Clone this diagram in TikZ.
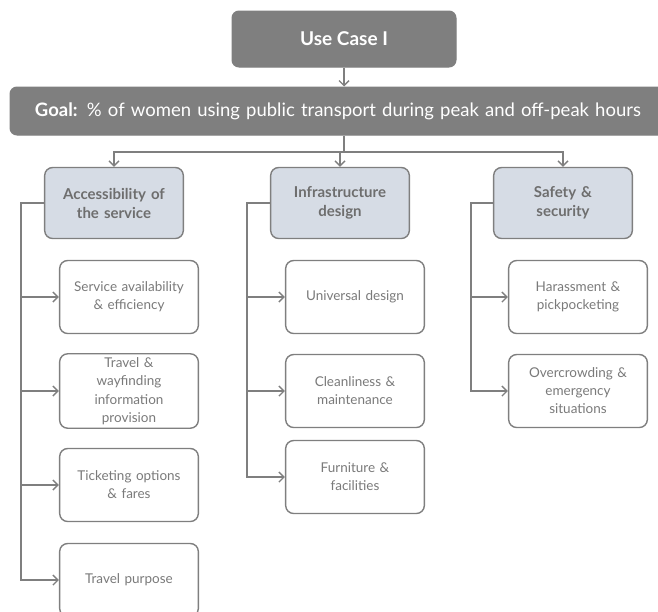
\documentclass[tikz,border=0pt]{standalone}
\usepackage{fontspec}
\setmainfont{Lato}
\usepackage{tikz}
\usetikzlibrary{arrows.meta}

\definecolor{boxgrey}{HTML}{7F7F7F}
\definecolor{catfill}{HTML}{D6DCE5}
\definecolor{txtgrey}{HTML}{7A7A7A}

\tikzset{
    topbox/.style = {draw=boxgrey, fill=boxgrey, rounded corners=7pt, line width=1pt,
                     text=white, font={\bfseries\fontsize{19}{22}\selectfont}, align=center},
    catbox/.style = {draw=boxgrey, fill=catfill, rounded corners=8pt, line width=1.4pt,
                     minimum width=138pt, minimum height=71pt, text width=132pt,
                     text=txtgrey!90!black, font={\bfseries\fontsize{15}{19}\selectfont}, align=center},
    subbox/.style = {draw=boxgrey, fill=white, rounded corners=8pt, line width=1.4pt,
                     minimum width=138pt, minimum height=73pt, text width=132pt,
                     text=txtgrey, font={\fontsize{13.5}{18}\selectfont}, align=center},
    arr/.style    = {draw=boxgrey, line width=1.4pt, -{Straight Barb[length=5pt,width=10pt]}}
}

\begin{document}
\begin{tikzpicture}[x=1pt, y=-1pt]
        \useasboundingbox (0,0) rectangle (658,611);
        \clip (0,0) rectangle (658,611);

        % top boxes
        \node[topbox, minimum width=224pt, minimum height=56pt] (usecase) at (344,39) {Use Case I};
        \node[topbox, minimum width=658pt, minimum height=48pt, text width=640pt, align=left,
              font={\fontsize{18.5}{22}\selectfont}] (goal) at (339,111)
              {\hspace*{16pt}\textbf{Goal:} \% of women using public transport during peak and off-peak hours};

        % categories
        \node[catbox] (access) at (114,203) {Accessibility of\\the service};
        \node[catbox] (infra)  at (340,203) {Infrastructure\\design};
        \node[catbox] (safety) at (563,203) {Safety \&\\security};

        % accessibility
        \node[subbox] (avail)  at (129,297) {Service availability\\\& efficiency};
        \node[subbox, font={\fontsize{13.5}{18.5}\selectfont}] (wayfind) at (129,391) {Travel \&\\wayfinding\\information\\provision};
        \node[subbox] (ticket) at (129,485) {Ticketing options\\\& fares};
        \node[subbox] (purpose) at (129,580) {Travel purpose};

        % infrastructure
        \node[subbox] (univ)  at (355,297) {Universal design};
        \node[subbox] (clean) at (355,391) {Cleanliness \&\\maintenance};
        \node[subbox] (furn)  at (355,477) {Furniture \&\\facilities};

        % safety
        \node[subbox] (harass) at (578,297) {Harassment \&\\pickpocketing};
        \node[subbox] (crowd)  at (578,391) {Overcrowding \&\\emergency\\situations};

        % connectors
        \coordinate (split) at (344,152);
        \draw[arr] (usecase.south) -- (usecase.south |- goal.north);
        \draw[boxgrey, line width=1.4pt] (usecase.south |- goal.south) -- (split);
        \draw[arr] (split) -| (access.north);
        \draw[arr] (split) -| (infra.north);
        \draw[arr] (split) -| (safety.north);

        \foreach \c in {avail, wayfind, ticket, purpose}
            \draw[arr] (access.west) -- ++(-23,0) |- (\c.west);
        \foreach \c in {univ, clean, furn}
            \draw[arr] (infra.west) -- ++(-23,0) |- (\c.west);
        \foreach \c in {harass, crowd}
            \draw[arr] (safety.west) -- ++(-22,0) |- (\c.west);

    \end{tikzpicture}
\end{document}
